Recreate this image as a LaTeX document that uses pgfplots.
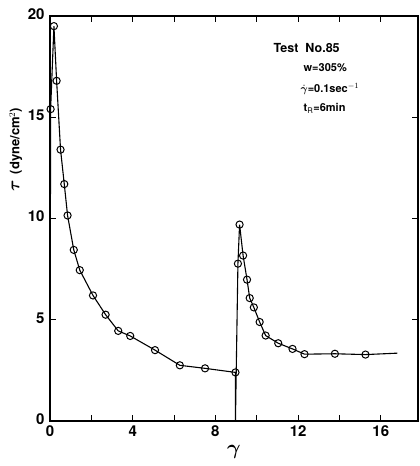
\documentclass[border=0pt]{standalone}
\usepackage{amsmath}
\usepackage{pgfplots}
\pgfplotsset{compat=1.18}
\usepackage{fontspec}
\setmainfont{TeX Gyre Heros}
\begin{document}
\begin{tikzpicture}
\begin{axis}[
  scale only axis,
  width=368pt, height=405pt,
  xmin=0, xmax=17.8, ymin=0, ymax=20,
  xtick={0,4,8,12,16},
  minor xtick={2,6,10,14},
  ytick={0,5,10,15,20},
  tick align=inside,
  major tick length=6pt, minor tick length=6pt,
  tick style={black, line width=0.9pt},
  axis line style={line width=1.3pt},
  /pgf/number format/assume math mode=true,
  tick label style={font=\fontsize{15}{15}\selectfont\bfseries},
  xticklabel style={yshift=-1pt},
  yticklabel style={xshift=-2pt, yshift=2pt},
  xlabel={$\boldsymbol{\gamma}$},
  xlabel style={font=\fontsize{22}{22}\selectfont, yshift=-2pt},
  ylabel={{\fontsize{18}{18}\selectfont$\boldsymbol{\tau}$}\hspace{0.6em}{\fontsize{13}{13}\selectfont\bfseries (dyne/cm$^2$)}},
  ylabel style={at={(axis description cs:-0.093,0.67)}, anchor=center},
  clip=false,
]
  \addplot[black, line width=1.1pt, mark=o, mark size=3.6pt,
    mark options={fill=white, line width=1pt},
    mark indices={2,3,4,5,6,7,8,9,10,11,12,13,14,15,16,17,19,20,21,22,23,24,25,26,27,28,29,30,31}]
  coordinates {
    (0,0) (0.03,15.4) (0.19,19.5) (0.32,16.8) (0.51,13.4) (0.69,11.7)
    (0.85,10.15) (1.15,8.45) (1.44,7.45) (2.08,6.2) (2.69,5.25) (3.30,4.45)
    (3.88,4.2) (5.08,3.5) (6.28,2.75) (7.5,2.6) (8.97,2.4) (8.97,0)
    (9.09,7.77) (9.17,9.7) (9.34,8.17) (9.53,6.98) (9.66,6.07) (9.86,5.61)
    (10.14,4.89) (10.43,4.22) (11.04,3.84) (11.73,3.56) (12.31,3.30)
    (13.78,3.32) (15.26,3.28) (16.8,3.35)
  };
  \node[anchor=west, font=\fontsize{12.5}{14}\selectfont\bfseries] at (axis cs:10.65,18.4) {Test~~No.85};
  \node[anchor=west, font=\fontsize{11}{13}\selectfont\bfseries] at (axis cs:12.1,17.45) {w=305\%};
  \node[anchor=west, font=\fontsize{11}{13}\selectfont\bfseries] at (axis cs:11.95,16.4) {$\dot{\boldsymbol{\gamma}}$=0.1sec$^{-1}$};
  \node[anchor=west, font=\fontsize{11}{13}\selectfont\bfseries] at (axis cs:12.1,15.45) {t$_{\mathrm{R}}$=6min};
\end{axis}
\pgfresetboundingbox
\path[use as bounding box] (-50pt,-45pt) rectangle (370pt,421pt);
\end{tikzpicture}
\end{document}
